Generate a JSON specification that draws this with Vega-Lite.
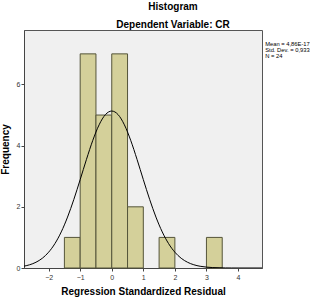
{
  "$schema": "https://vega.github.io/schema/vega-lite/v6.json",
  "width": 238,
  "height": 238,
  "autosize": "none",
  "padding": {"left": 24, "top": 30, "right": 51, "bottom": 32},
  "background": "white",
  "title": {
    "text": "Histogram",
    "subtitle": "Dependent Variable: CR",
    "anchor": "middle",
    "dx": 30,
    "font": "Liberation Sans",
    "fontSize": 10,
    "fontWeight": "bold",
    "color": "#000",
    "subtitleFont": "Liberation Sans",
    "subtitleFontSize": 10,
    "subtitleFontWeight": "bold",
    "subtitleColor": "#000",
    "subtitlePadding": 8,
    "offset": 0
  },
  "config": {
    "view": {"fill": "#F0F0F0", "stroke": "#555555", "strokeWidth": 1},
    "axis": {
      "grid": false,
      "domainColor": "#444444",
      "tickColor": "#444444",
      "tickSize": 3,
      "labelOverlap": false,
      "labelFont": "Liberation Sans",
      "labelFontSize": 7,
      "labelColor": "#333333",
      "titleFont": "Liberation Sans",
      "titleFontSize": 10,
      "titleFontWeight": "bold",
      "titleColor": "#000"
    }
  },
  "datasets": {
    "bars": [
      {"x": -1.5, "x_end": -1.0, "y": 1},
      {"x": -1.0, "x_end": -0.5, "y": 7},
      {"x": -0.5, "x_end": 0.0, "y": 5},
      {"x": 0.0, "x_end": 0.5, "y": 7},
      {"x": 0.5, "x_end": 1.0, "y": 2},
      {"x": 1.5, "x_end": 2.0, "y": 1},
      {"x": 3.0, "x_end": 3.5, "y": 1}
    ],
    "curve": [
      {"x": -2.78, "y": 0.06},
      {"x": -2.6, "y": 0.106},
      {"x": -2.4, "y": 0.188},
      {"x": -2.2, "y": 0.318},
      {"x": -2.0, "y": 0.516},
      {"x": -1.8, "y": 0.798},
      {"x": -1.6, "y": 1.179},
      {"x": -1.4, "y": 1.665},
      {"x": -1.2, "y": 2.244},
      {"x": -1.0, "y": 2.889},
      {"x": -0.8, "y": 3.553},
      {"x": -0.6, "y": 4.173},
      {"x": -0.4, "y": 4.681},
      {"x": -0.2, "y": 5.015},
      {"x": 0.0, "y": 5.131},
      {"x": 0.2, "y": 5.015},
      {"x": 0.4, "y": 4.681},
      {"x": 0.6, "y": 4.173},
      {"x": 0.8, "y": 3.553},
      {"x": 1.0, "y": 2.889},
      {"x": 1.2, "y": 2.244},
      {"x": 1.4, "y": 1.665},
      {"x": 1.6, "y": 1.179},
      {"x": 1.8, "y": 0.798},
      {"x": 2.0, "y": 0.516},
      {"x": 2.2, "y": 0.318},
      {"x": 2.4, "y": 0.188},
      {"x": 2.6, "y": 0.106},
      {"x": 2.8, "y": 0.057},
      {"x": 3.0, "y": 0.029},
      {"x": 3.2, "y": 0.014},
      {"x": 3.4, "y": 0.007},
      {"x": 3.6, "y": 0.003},
      {"x": 3.8, "y": 0.001},
      {"x": 4.0, "y": 0.0005},
      {"x": 4.76, "y": 0.0}
    ],
    "stats": [
      {"label": "Mean = 4,86E-17", "y": 7.32},
      {"label": "Std. Dev. = 0,933", "y": 7.12},
      {"label": "N = 24", "y": 6.92}
    ]
  },
  "layer": [
    {
      "data": {"name": "bars"},
      "mark": {"type": "rect", "fill": "#D4D09A", "stroke": "#55553A", "strokeWidth": 1},
      "encoding": {
        "x": {
          "field": "x",
          "type": "quantitative",
          "scale": {"domain": [-2.78, 4.76], "nice": false, "zero": false},
          "axis": {"values": [-2, -1, 0, 1, 2, 3, 4], "labelOverlap": false, "labelFlush": false, "title": "Regression Standardized Residual", "labelPadding": 2, "titlePadding": 6}
        },
        "x2": {"field": "x_end"},
        "y": {
          "field": "y",
          "type": "quantitative",
          "scale": {"domain": [0, 7.78], "nice": false},
          "axis": {"values": [0, 2, 4, 6], "format": "d", "labelOverlap": false, "title": "Frequency", "labelPadding": 1, "titlePadding": 6}
        },
        "y2": {"datum": 0}
      }
    },
    {
      "data": {"name": "curve"},
      "mark": {"type": "line", "color": "#000000", "strokeWidth": 1, "interpolate": "monotone", "clip": true},
      "encoding": {
        "x": {
          "field": "x",
          "type": "quantitative",
          "axis": {"values": [-2, -1, 0, 1, 2, 3, 4], "labelOverlap": false, "labelFlush": false, "title": "Regression Standardized Residual", "labelPadding": 2, "titlePadding": 6}
        },
        "y": {
          "field": "y",
          "type": "quantitative",
          "axis": {"values": [0, 2, 4, 6], "format": "d", "labelOverlap": false, "title": "Frequency", "labelPadding": 1, "titlePadding": 6}
        }
      }
    },
    {
      "data": {"name": "stats"},
      "mark": {"type": "text", "align": "left", "baseline": "middle", "font": "Liberation Sans", "fontSize": 5.8, "color": "#000", "clip": false},
      "encoding": {
        "x": {
          "datum": 4.86,
          "type": "quantitative",
          "axis": {"values": [-2, -1, 0, 1, 2, 3, 4], "labelOverlap": false, "labelFlush": false, "title": "Regression Standardized Residual", "labelPadding": 2, "titlePadding": 6}
        },
        "y": {
          "field": "y",
          "type": "quantitative",
          "axis": {"values": [0, 2, 4, 6], "format": "d", "labelOverlap": false, "title": "Frequency", "labelPadding": 1, "titlePadding": 6}
        },
        "text": {"field": "label"}
      }
    }
  ]
}
